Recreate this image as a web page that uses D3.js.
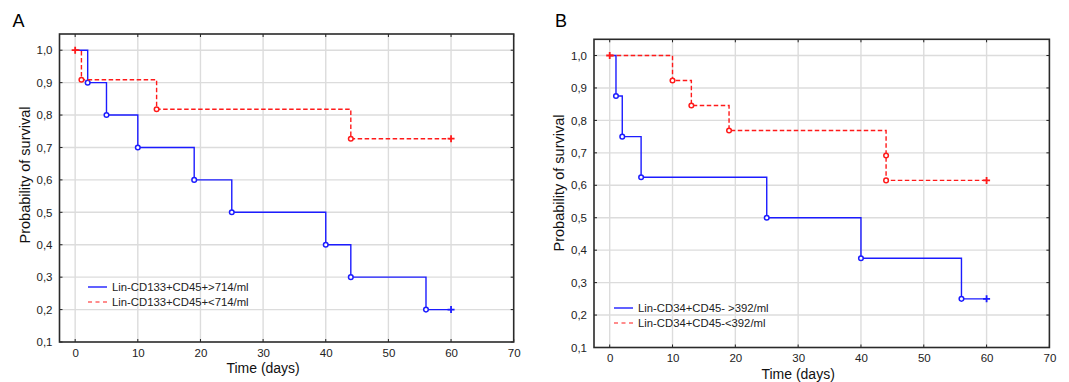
<!DOCTYPE html>
<html>
<head>
<meta charset="utf-8">
<script src="https://cdn.jsdelivr.net/npm/d3@7"></script>
<style>
  html, body { margin: 0; padding: 0; background: #fff; }
  svg { display: block; font-family: "Liberation Sans", Arial, sans-serif; }
</style>
</head>
<body>
<svg id="chart" width="1069" height="382"></svg>
<script>
// ---------- data ----------
const xTicks = [0, 10, 20, 30, 40, 50, 60, 70];
const yTicks = [0.1, 0.2, 0.3, 0.4, 0.5, 0.6, 0.7, 0.8, 0.9, 1.0];
const yTickLabels = ["0,1", "0,2", "0,3", "0,4", "0,5", "0,6", "0,7", "0,8", "0,9", "1,0"];

// Panel A
const aHighLabel = "Lin-CD133+CD45+>714/ml";
const aHighEventTimes = [2, 5, 10, 19, 25, 40, 44, 56];
const aHighSurvival = [0.9, 0.8, 0.7, 0.6, 0.5, 0.4, 0.3, 0.2];
const aHighCensored = [60];

const aLowLabel = "Lin-CD133+CD45+<714/ml";
const aLowEventTimes = [1, 13, 44];
const aLowSurvival = [0.909, 0.818, 0.727];
const aLowCensored = [0, 60];

// Panel B
const bHighLabel = "Lin-CD34+CD45- >392/ml";
const bHighEventTimes = [1, 2, 5, 25, 40, 56];
const bHighSurvival = [0.875, 0.75, 0.625, 0.5, 0.375, 0.25];
const bHighCensored = [60];

const bLowLabel = "Lin-CD34+CD45-<392/ml";
const bLowEventTimes = [10, 13, 19, 44, 44];
const bLowSurvival = [0.923, 0.846, 0.769, 0.692, 0.615];
const bLowCensored = [0, 60];

// ---------- drawing ----------
const svg = d3.select("#chart");
const BLUE = "#1c1cff", RED = "#ff1a1a";

function drawPanel(cfg) {
  const g = svg.append("g");
  const x = d3.scaleLinear().domain([-2.5, 70]).range([cfg.left, cfg.right]);
  const y = d3.scaleLinear().domain([0.1, 1.05]).range([cfg.bottom, cfg.top]);

  // grid
  g.append("g").selectAll("line").data(xTicks.filter(t => t < 70)).join("line")
    .attr("x1", d => x(d)).attr("x2", d => x(d))
    .attr("y1", cfg.top).attr("y2", cfg.bottom)
    .attr("stroke", "#dcdcdc").attr("stroke-width", 1.4);
  g.append("g").selectAll("line").data(yTicks.filter(t => t > 0.1)).join("line")
    .attr("x1", cfg.left).attr("x2", cfg.right)
    .attr("y1", d => y(d)).attr("y2", d => y(d))
    .attr("stroke", "#dcdcdc").attr("stroke-width", 1.4);

  // axes with inward ticks
  const axB = d3.axisBottom(x).tickValues(xTicks).tickSize(0).tickPadding(6.5).tickFormat(d3.format("d"));
  const axL = d3.axisLeft(y).tickValues(yTicks).tickSize(0).tickPadding(7).tickFormat((d, i) => yTickLabels[i]);
  const gb = g.append("g").attr("transform", `translate(0,${cfg.bottom})`).call(axB);
  const gl = g.append("g").attr("transform", `translate(${cfg.left},0)`).call(axL);
  [gb, gl].forEach(a => {
    a.select(".domain").remove();
    a.selectAll("text").attr("font-size", 11.5).attr("fill", "#222")
      .attr("font-family", "'Liberation Sans', Arial, sans-serif");
  });

  const tl = 3;
  const tickG = g.append("g").attr("stroke", "#222").attr("stroke-width", 1);
  xTicks.forEach(t => {
    tickG.append("line").attr("x1", x(t)).attr("x2", x(t)).attr("y1", cfg.bottom).attr("y2", cfg.bottom - tl);
    tickG.append("line").attr("x1", x(t)).attr("x2", x(t)).attr("y1", cfg.top).attr("y2", cfg.top + tl);
  });
  yTicks.forEach(t => {
    tickG.append("line").attr("x1", cfg.left).attr("x2", cfg.left + tl).attr("y1", y(t)).attr("y2", y(t));
    tickG.append("line").attr("x1", cfg.right).attr("x2", cfg.right - tl).attr("y1", y(t)).attr("y2", y(t));
  });

  // series
  const line = d3.line().x(d => x(d[0])).y(d => y(d[1])).curve(d3.curveStepAfter);
  cfg.series.forEach(s => {
    const pts = [[0, 1.0]];
    s.times.forEach((t, i) => pts.push([t, s.surv[i]]));
    const last = s.surv[s.surv.length - 1];
    pts.push([d3.max(s.censored), last]);
    g.append("path").datum(pts).attr("d", line)
      .attr("fill", "none").attr("stroke", s.color).attr("stroke-width", 1.4)
      .attr("stroke-dasharray", s.dash || null);
    // event circles
    g.append("g").selectAll("circle").data(s.times.map((t, i) => [t, s.surv[i]])).join("circle")
      .attr("cx", d => x(d[0])).attr("cy", d => y(d[1])).attr("r", 2.3)
      .attr("fill", "#fff").attr("stroke", s.color).attr("stroke-width", 1.5);
  });
  // censor marks
  cfg.series.forEach(s => {
    s.censored.forEach(t => {
      let v = 1.0;
      s.times.forEach((et, i) => { if (et <= t) v = s.surv[i]; });
      const cx = x(t), cy = y(v);
      g.append("path").attr("d", `M${cx - 3.5},${cy}H${cx + 3.5}M${cx},${cy - 3.5}V${cy + 3.5}`)
        .attr("stroke", s.color).attr("stroke-width", 1.8);
    });
  });

  // frame
  g.append("rect").attr("x", cfg.left).attr("y", cfg.top)
    .attr("width", cfg.right - cfg.left).attr("height", cfg.bottom - cfg.top)
    .attr("fill", "none").attr("stroke", "#2a2a2a").attr("stroke-width", 1.6);

  // legend
  cfg.series.forEach((s, i) => {
    const ly = cfg.legendY + i * 15;
    g.append("line").attr("x1", cfg.legendX).attr("x2", cfg.legendX + 19)
      .attr("y1", ly).attr("y2", ly)
      .attr("stroke", s.dash ? s.color : "#5050ff").attr("stroke-width", s.dash ? 1.1 : 1.8)
      .attr("stroke-dasharray", s.dash ? "4,3.5" : null);
    g.append("text").attr("x", cfg.legendX + 24).attr("y", ly + 4)
      .attr("font-size", 11.3).attr("fill", "#222").text(s.label);
  });

  // axis titles
  g.append("text").attr("x", x(30)).attr("y", cfg.bottom + 31)
    .attr("text-anchor", "middle").attr("font-size", 14).attr("fill", "#111").text("Time (days)");
  g.append("text")
    .attr("transform", `translate(${cfg.left - 30},${cfg.yLabelY}) rotate(-90)`)
    .attr("text-anchor", "middle").attr("font-size", 14.5).attr("fill", "#111").text("Probability of survival");

  // panel letter
  g.append("text").attr("x", cfg.letterX).attr("y", 27)
    .attr("font-size", 18).attr("fill", "#000").text(cfg.letter);
}

drawPanel({
  letter: "A", letterX: 12.5,
  left: 59.5, right: 513.7, top: 34, bottom: 342,
  legendX: 88, legendY: 287, yLabelY: 175,
  series: [
    { label: aHighLabel, times: aHighEventTimes, surv: aHighSurvival, censored: aHighCensored, color: BLUE },
    { label: aLowLabel, times: aLowEventTimes, surv: aLowSurvival, censored: aLowCensored, color: RED, dash: "4.5,2.5" }
  ]
});

drawPanel({
  letter: "B", letterX: 555,
  left: 594, right: 1049.4, top: 39.3, bottom: 347.5,
  legendX: 614, legendY: 308, yLabelY: 183,
  series: [
    { label: bHighLabel, times: bHighEventTimes, surv: bHighSurvival, censored: bHighCensored, color: BLUE },
    { label: bLowLabel, times: bLowEventTimes, surv: bLowSurvival, censored: bLowCensored, color: RED, dash: "4.5,2.5" }
  ]
});
</script>
</body>
</html>
